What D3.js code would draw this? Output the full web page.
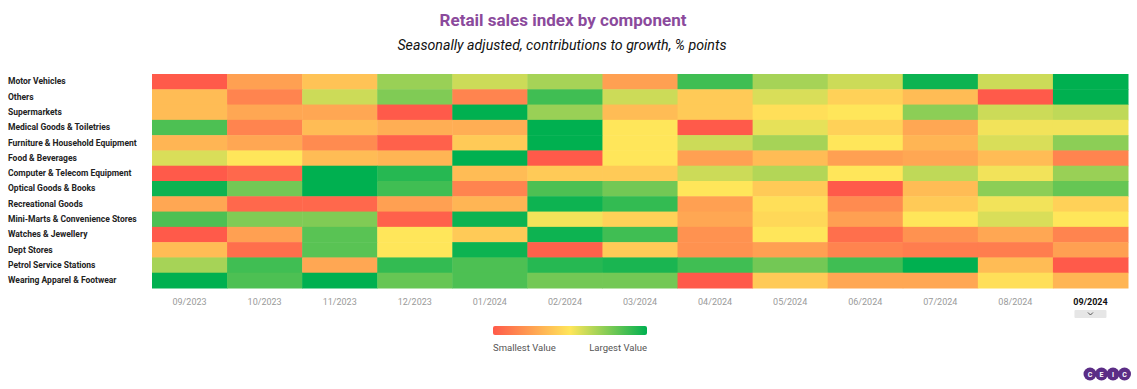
<!DOCTYPE html>
<html>
<head>
<meta charset="utf-8">
<script src="https://cdn.jsdelivr.net/npm/d3@7"></script>
<style>
  html, body { margin: 0; padding: 0; background: #fff; }
  svg { display: block; font-family: Roboto, "Noto Sans", sans-serif; }
</style>
</head>
<body>
<svg id="chart" width="1137" height="389"></svg>
<script>
// ---- data ----
const months = ["09/2023","10/2023","11/2023","12/2023","01/2024","02/2024","03/2024",
                "04/2024","05/2024","06/2024","07/2024","08/2024","09/2024"];
const components = ["Motor Vehicles","Others","Supermarkets","Medical Goods & Toiletries",
  "Furniture & Household Equipment","Food & Beverages","Computer & Telecom Equipment",
  "Optical Goods & Books","Recreational Goods","Mini-Marts & Convenience Stores",
  "Watches & Jewellery","Dept Stores","Petrol Service Stations","Wearing Apparel & Footwear"];
// relative contribution scores (-1 = smallest, 1 = largest), one array per component
const motorVehicles   = [-1.0,-0.5,-0.25, 0.4, 0.2, 0.35,-0.5, 0.75, 0.35, 0.2, 0.95, 0.2, 1.0];
const others          = [-0.3,-0.7, 0.2, 0.5,-0.7, 0.75, 0.2,-0.2, 0.15,-0.15,-0.3,-1.0, 1.0];
const supermarkets    = [-0.3,-0.45,-0.45,-1.0, 1.0, 0.4,-0.3,-0.2,-0.05, 0.0, 0.45, 0.2, 0.25];
const medicalGoods    = [ 0.7,-0.7,-0.3,-0.4,-0.4, 1.0, 0.0,-1.0, 0.1,-0.15,-0.45, 0.05, 0.05];
const furniture       = [-0.35,-0.45,-0.65,-0.95,-0.2, 1.0, 0.0, 0.2, 0.35, 0.0,-0.35, 0.15, 0.45];
const foodBeverages   = [ 0.15, 0.0,-0.3,-0.35, 1.0,-1.0, 0.0,-0.5,-0.3,-0.5,-0.45,-0.3,-0.7];
const computerTelecom = [-1.0,-0.9, 1.0, 0.85,-0.3,-0.2,-0.2, 0.2, 0.3, 0.0, 0.25, 0.05, 0.4];
const opticalGoods    = [ 0.95, 0.55, 1.0, 0.75,-0.7, 0.7, 0.55, 0.0,-0.2,-1.0,-0.3, 0.45, 0.6];
const recreational    = [-0.45,-0.9,-0.9,-0.5,-0.35, 0.95, 0.8,-0.5,-0.05,-0.65,-0.2, 0.05,-0.15];
const miniMarts       = [ 0.7, 0.5, 0.5,-0.95, 0.95, 0.05,-0.15,-0.45,-0.1,-0.5, 0.0, 0.15, 0.0];
const watches         = [-1.0,-0.5, 0.65, 0.0,-0.2, 0.95, 0.75,-0.6, 0.0,-0.85,-0.6,-0.45,-0.7];
const deptStores      = [-0.3,-0.85, 0.65, 0.0, 0.95,-0.95,-0.2,-0.6,-0.5,-0.7,-0.75,-0.75,-0.5];
const petrol          = [ 0.35, 0.75,-0.45, 0.8, 0.7, 0.85, 0.9, 0.75, 0.55, 0.75, 1.0,-0.3,-1.0];
const apparel         = [ 1.0, 0.7, 1.0, 0.6, 0.7, 0.55, 0.55,-1.0,-0.2,-0.45,-0.45,-0.05,-0.35];
const seriesValues = [motorVehicles, others, supermarkets, medicalGoods, furniture, foodBeverages,
  computerTelecom, opticalGoods, recreational, miniMarts, watches, deptStores, petrol, apparel];
const legendLabels = ["Smallest Value", "Largest Value"];

// ---- build ----
const svg = d3.select("#chart");
const plotLeft = 152, plotRight = 1128, plotTop = 74, plotBottom = 288;

const color = d3.scaleLinear().domain([-1, 0, 1])
  .range(["#ff5a4a", "#ffe65a", "#00b050"]).interpolate(d3.interpolateRgb);

const x = d3.scaleBand().domain(months).range([plotLeft, plotRight]).padding(0);
const y = d3.scaleBand().domain(components).range([plotTop, plotBottom]).padding(0);

const cells = [];
components.forEach((c, i) => months.forEach((m, j) => cells.push({c, m, v: seriesValues[i][j]})));

svg.append("g").selectAll("rect").data(cells).join("rect")
  .attr("x", d => x(d.m)).attr("y", d => y(d.c))
  .attr("width", x.bandwidth() + 0.5).attr("height", y.bandwidth() + 0.5)
  .attr("fill", d => color(d.v));

// title
svg.append("text").attr("x", 563).attr("y", 26).attr("text-anchor", "middle")
  .attr("font-size", 17).attr("font-weight", 700).attr("fill", "#8b4a9c")
  .text("Retail sales index by component");
svg.append("text").attr("x", 562).attr("y", 50).attr("text-anchor", "middle")
  .attr("font-size", 14.2).attr("font-style", "italic").attr("fill", "#111")
  .text("Seasonally adjusted, contributions to growth, % points");

// row labels
const yAxis = svg.append("g").attr("transform", `translate(${plotLeft},0)`)
  .call(d3.axisLeft(y).tickSize(0));
yAxis.select(".domain").remove();
yAxis.selectAll("text").attr("x", 8 - plotLeft).attr("text-anchor", "start")
  .attr("font-size", 8.5).attr("font-weight", 700).attr("fill", "#222")
  .attr("font-family", "Roboto, sans-serif");

// column labels
const xAxis = svg.append("g").attr("transform", `translate(0,${plotBottom})`)
  .call(d3.axisBottom(x).tickSize(0).tickPadding(11));
xAxis.select(".domain").remove();
xAxis.selectAll("text").attr("font-size", 9).attr("fill", "#9a9a9a")
  .attr("font-family", "Roboto, sans-serif")
  .filter(d => d === months[months.length - 1])
  .attr("fill", "#111").attr("font-weight", 700);

// small button under last month
const lastX = x(months[months.length - 1]) + x.bandwidth() / 2;
svg.append("rect").attr("x", lastX - 16).attr("y", 310).attr("width", 32).attr("height", 8)
  .attr("rx", 1).attr("fill", "#e6e6e6");
svg.append("path").attr("d", `M${lastX - 2.5},${312.5} L${lastX},${315} L${lastX + 2.5},${312.5}`)
  .attr("fill", "none").attr("stroke", "#444").attr("stroke-width", 0.9);

// legend
const defs = svg.append("defs");
const grad = defs.append("linearGradient").attr("id", "lg");
[-1, -0.5, 0, 0.5, 1].forEach(v => grad.append("stop")
  .attr("offset", ((v + 1) / 2 * 100) + "%").attr("stop-color", color(v)));
const lx = 493, lw = 154;
svg.append("rect").attr("x", lx).attr("y", 326).attr("width", lw).attr("height", 9)
  .attr("rx", 2).attr("fill", "url(#lg)");
svg.append("text").attr("x", lx).attr("y", 351).attr("font-size", 9.5).attr("fill", "#555")
  .text(legendLabels[0]);
svg.append("text").attr("x", lx + lw).attr("y", 351).attr("text-anchor", "end")
  .attr("font-size", 9.5).attr("fill", "#555").text(legendLabels[1]);

// logo
const logo = svg.append("g");
["C","E","I","C"].forEach((ch, i) => {
  const cx = 1090 + i * 11.5;
  logo.append("circle").attr("cx", cx).attr("cy", 374).attr("r", 6.5).attr("fill", "#5b2d86");
  logo.append("text").attr("x", cx).attr("y", 376.5).attr("text-anchor", "middle")
    .attr("font-size", 7).attr("font-weight", 700).attr("fill", "#fff").text(ch);
});
</script>
</body>
</html>
